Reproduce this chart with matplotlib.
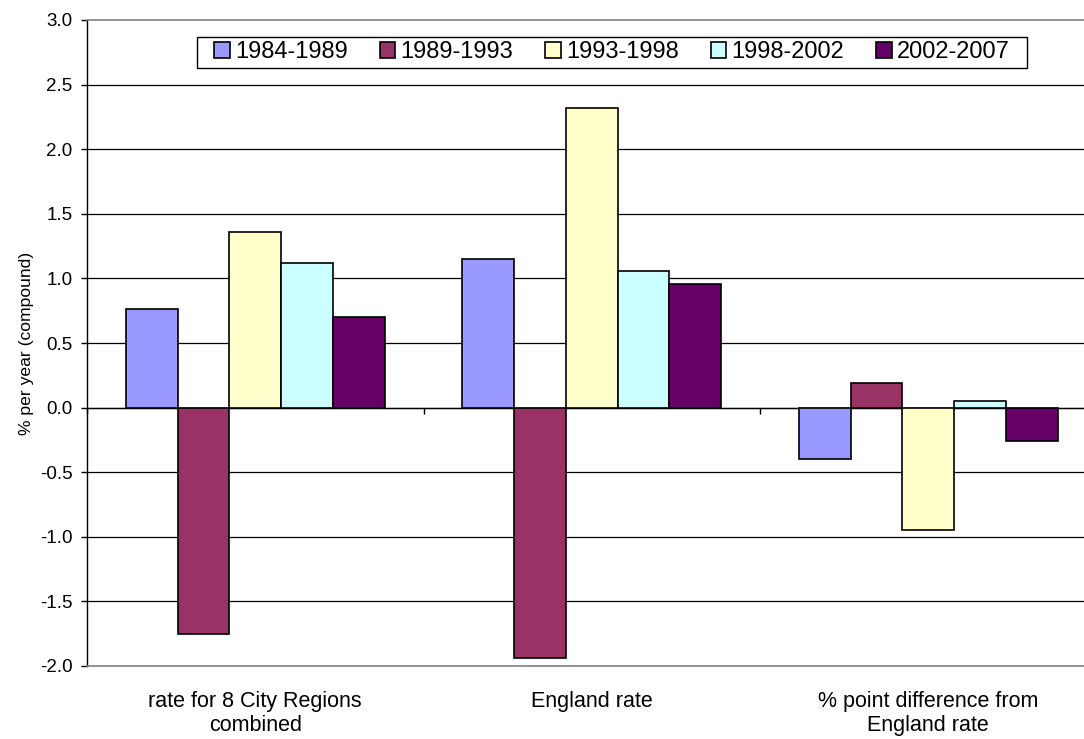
import matplotlib
matplotlib.use("Agg")
import matplotlib.pyplot as plt
from matplotlib.path import Path
import numpy as np

plt.rcParams['font.family'] = ['Liberation Sans', 'DejaVu Sans']

categories = ["rate for 8 City Regions\ncombined", "England rate",
              "% point difference from\nEngland rate"]
periods = ["1984-1989", "1989-1993", "1993-1998", "1998-2002", "2002-2007"]
city_regions = [0.76, -1.75, 1.36, 1.12, 0.70]
england = [1.15, -1.94, 2.32, 1.06, 0.96]
difference = [-0.40, 0.19, -0.95, 0.05, -0.26]
colors = ["#9999FF", "#993366", "#FFFFCC", "#CCFFFF", "#660066"]

values = np.array([city_regions, england, difference])  # rows: categories

W, H = 1084, 739
fig = plt.figure(figsize=(W / 100, H / 100), dpi=100)
left, right, top, bottom = 87, 1096.5, 20, 666
ax = fig.add_axes([left / W, 1 - bottom / H, (right - left) / W, (bottom - top) / H])

n = len(periods)
bar_w = 1 / 6.5
x = np.arange(len(categories))
for i, (label, col) in enumerate(zip(periods, colors)):
    offs = (i - (n - 1) / 2) * bar_w
    ax.bar(x + offs, values[:, i], width=bar_w, color=col, edgecolor="black",
           linewidth=1.2, label=label, zorder=3)

ax.set_xlim(-0.5, len(categories) - 0.5)
ax.set_ylim(-2.0, 3.0)
yt = np.arange(-2.0, 3.01, 0.5)
ax.set_yticks(yt)
ax.set_yticklabels([f"{v:.1f}" for v in yt], fontsize=13.5)
ax.tick_params(axis="y", direction="out", length=4.5, width=1, pad=6)
for v in yt[1:-1]:
    ax.axhline(v, color="black", linewidth=0.9, zorder=1)

ax.set_xticks(x)
ax.set_xticklabels(categories, fontsize=15.5, linespacing=1.2)
ax.tick_params(axis="x", length=0, pad=18)

for s in ["top", "right", "bottom"]:
    ax.spines[s].set_color("#808080")
    ax.spines[s].set_linewidth(1.2)
ax.spines["left"].set_color("black")
ax.spines["left"].set_linewidth(1.0)

# category axis running through zero, with ticks between groups
zero_frac = (0 - (-2.0)) / (3.0 - (-2.0))
sec = ax.secondary_xaxis(zero_frac)
sec.set_xticks(np.arange(-0.5, len(categories), 1.0))
sec.set_xticklabels([])
sec.tick_params(direction="out", length=4.5, width=1, color="black")
sec.spines["bottom"].set_color("#333333")
sec.spines["bottom"].set_linewidth(1.0)

ax.set_ylabel("% per year (compound)", fontsize=12.6, labelpad=4)

leg = fig.legend(loc="center", bbox_to_anchor=(612 / W, 1 - 52.5 / H), ncol=5,
                 fontsize=17, frameon=True, fancybox=False, framealpha=1,
                 edgecolor="black", handlelength=0.66, handleheight=0.66,
                 handletextpad=0.21, columnspacing=1.36, borderpad=0.17,
                 borderaxespad=0)
leg.get_frame().set_linewidth(1.0)


def legend_box(x0, y0, width, height, mutation_size):
    # wider horizontal padding than vertical padding
    px = 0.55 * mutation_size
    xs = [x0 - px, x0 + width + px, x0 + width + px, x0 - px, x0 - px]
    ys = [y0, y0, y0 + height, y0 + height, y0]
    return Path(np.column_stack([xs, ys]), closed=True)


leg.get_frame().set_boxstyle(legend_box)

fig.savefig("out.png", dpi=100)
